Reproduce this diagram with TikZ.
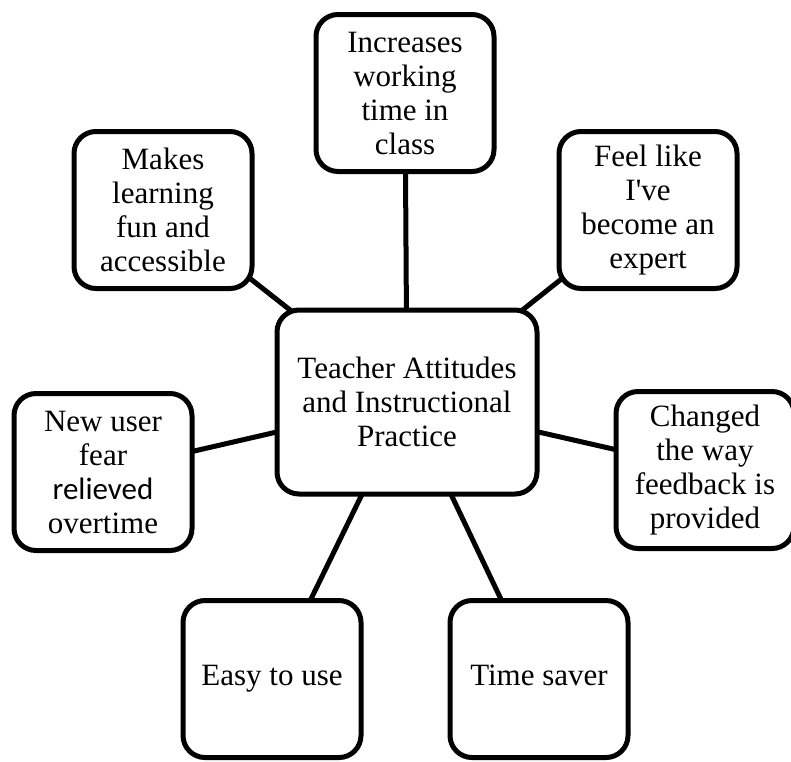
\documentclass[tikz,border=0pt]{standalone}
\usepackage{fontspec}
\setmainfont{Liberation Serif}
\newfontfamily\calibrifont{Carlito}
\usetikzlibrary{backgrounds}

\tikzset{
  idea/.style={draw, line width=5pt, rounded corners=22pt, fill=white,
    align=center, minimum width=178pt, minimum height=157pt, inner sep=2pt,
    font=\fontsize{31}{34}\selectfont},
  hub/.style={idea, minimum width=260pt, minimum height=184pt},
  link/.style={line width=5pt}
}

\begin{document}
\begin{tikzpicture}[x=1pt, y=-1pt]
          \useasboundingbox (0,0) rectangle (791,761);
          \node[hub] (hub) at (407,402) {Teacher Attitudes\\and Instructional\\Practice};
          \node[idea] (working) at (405,93) {Increases\\working\\time in\\class};
          \node[idea] (fun) at (163,210) {Makes\\learning\\fun and\\accessible};
          \node[idea] (expert) at (648,210) {Feel like\\I\textquotesingle ve\\become an\\expert};
          \node[idea] (fear) at (103,472) {New user\\fear\\{\calibrifont relieved}\\overtime};
          \node[idea] (feedback) at (705,470) {Changed\\the way\\feedback is\\provided};
          \node[idea] (easy) at (272,679) {Easy to use\strut};
          \node[idea] (saver) at (539,679) {Time saver\strut};
%          connectors go behind the boxes
          \begin{scope}[on background layer]
            \foreach \sat in {working, fun, expert, fear, feedback, easy, saver}
              \draw[link] (hub.center) -- (\sat.center);
          \end{scope}
        \end{tikzpicture}
\end{document}
